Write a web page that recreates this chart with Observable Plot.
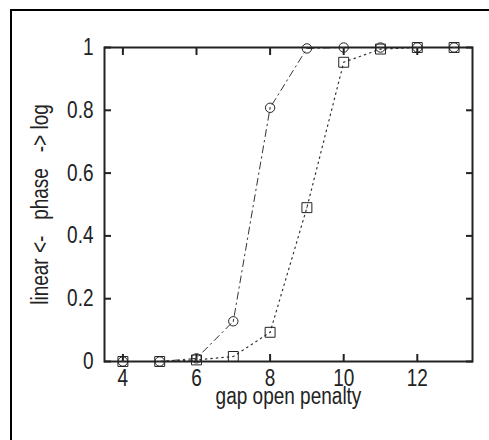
<!DOCTYPE html>
<html><head><meta charset="utf-8">
<script src="https://cdn.jsdelivr.net/npm/d3@7"></script>
<script src="https://cdn.jsdelivr.net/npm/@observablehq/plot@0.6"></script>
<style>
html,body{margin:0;padding:0;background:#fff;}
#wrap{position:relative;width:489px;height:440px;overflow:hidden;}
#border{position:absolute;left:10px;top:9px;width:600px;height:600px;border-left:2px solid #000;border-top:2px solid #000;}
#chart{position:absolute;left:0;top:0;}
</style></head>
<body><div id="wrap"><div id="border"></div><div id="chart"></div></div>
<script>
const penalty = [4, 5, 6, 7, 8, 9, 10, 11, 12, 13];
const circleSeries = [0, 0, 0.01, 0.128, 0.808, 0.997, 1, 1, 1, 1];
const squareSeries = [0, 0, 0.005, 0.016, 0.093, 0.49, 0.953, 0.995, 1, 1];
const xTicks = [4, 6, 8, 10, 12];
const yTicks = [0, 0.2, 0.4, 0.6, 0.8, 1];
const xLabel = "gap open penalty";
const yLabel = "linear <-\u00a0\u00a0\u00a0phase\u00a0\u00a0\u00a0-> log";

const circ = penalty.map((x, i) => ({x, y: circleSeries[i]}));
const sq = penalty.map((x, i) => ({x, y: squareSeries[i]}));
const FS = 19;

const plot = Plot.plot({
  width: 489, height: 440,
  marginLeft: 104, marginTop: 47, marginRight: 17, marginBottom: 79,
  style: {fontFamily: "'Liberation Sans', Arial, sans-serif", fontSize: FS + "px", color: "#222", background: "transparent"},
  x: {domain: [3.5, 13.5]},
  y: {domain: [0, 1]},
  marks: [
    Plot.lineY(circ, {x: "x", y: "y", stroke: "#333", strokeWidth: 1, strokeDasharray: "7,4,1.5,4"}),
    Plot.lineY(sq, {x: "x", y: "y", stroke: "#333", strokeWidth: 1.2, strokeDasharray: "1.5,4"}),
    Plot.frame({stroke: "#222", strokeWidth: 2}),
    Plot.axisX(xTicks, {anchor: "bottom", tickSize: -7, tickPadding: 15, strokeWidth: 2, label: null, fontSize: FS}),
    Plot.axisY(yTicks, {anchor: "left", tickSize: -7, tickPadding: 18, strokeWidth: 2, label: null, fontSize: FS, tickFormat: d => String(d)}),
    Plot.axisY(yTicks, {anchor: "right", tickSize: -7, tickFormat: () => "", strokeWidth: 2, label: null}),
    Plot.axisX(xTicks, {anchor: "top", tickSize: -7, tickFormat: () => "", strokeWidth: 2, label: null}),
    Plot.dot(circ, {x: "x", y: "y", r: 4.7, stroke: "#222", strokeWidth: 1, fill: "none"}),
    Plot.dot(sq, {x: "x", y: "y", r: 5.6, symbol: "square", stroke: "#222", strokeWidth: 1, fill: "none"}),
    Plot.dot(circ, {x: "x", y: "y", r: 0.6, fill: "#444", stroke: "none"}),
    Plot.dot(sq, {x: "x", y: "y", r: 0.6, fill: "#444", stroke: "none"}),
    Plot.text([xLabel], {frameAnchor: "bottom", lineAnchor: "middle", textAnchor: "middle", dy: 35, fontSize: FS, fill: "#222"}),
    Plot.text([yLabel], {frameAnchor: "left", lineAnchor: "middle", textAnchor: "middle", dx: -64, rotate: -90, fontSize: FS, fill: "#222"})
  ]
});
// stretch glyphs vertically to match the tall, condensed lettering of the reference
d3.select(plot).selectAll("text").each(function() {
  const t = this.getAttribute("transform") || "";
  this.setAttribute("transform", t + " scale(1,1.22)");
});
document.getElementById("chart").appendChild(plot);
</script>
</body></html>
